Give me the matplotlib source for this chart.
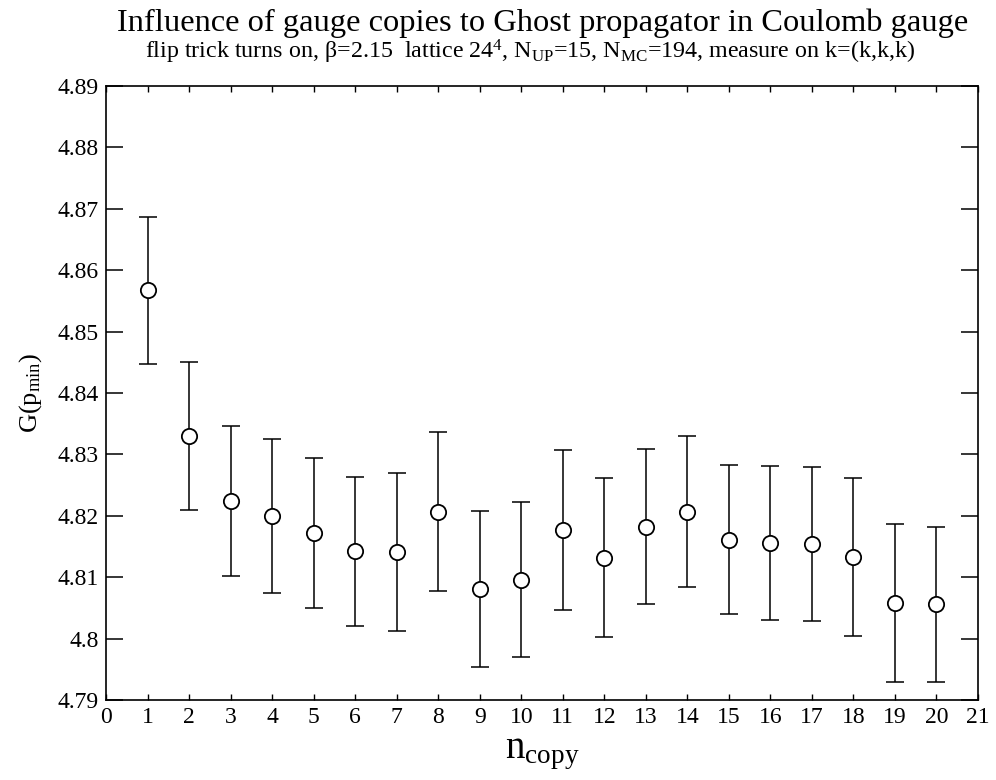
import matplotlib

matplotlib.use("Agg")
import matplotlib.pyplot as plt

# n_copy on the x axis, G(p_min) with error bars
n_copy = list(range(1, 21))
g_pmin = [4.8567, 4.8330, 4.8224, 4.8200, 4.8172, 4.8142, 4.8141, 4.8207,
          4.8081, 4.8096, 4.8177, 4.8132, 4.8182, 4.8207, 4.8161, 4.8156,
          4.8154, 4.8133, 4.8058, 4.8056]
g_err = [0.0119, 0.0120, 0.0122, 0.0125, 0.0122, 0.0121, 0.0128, 0.0130,
         0.0127, 0.0126, 0.0130, 0.0129, 0.0126, 0.0123, 0.0121, 0.0125,
         0.0126, 0.0128, 0.0128, 0.0126]
y_ticks = [4.79, 4.80, 4.81, 4.82, 4.83, 4.84, 4.85, 4.86, 4.87, 4.88, 4.89]

plt.rcParams["font.family"] = ["Liberation Serif", "DejaVu Serif"]
plt.rcParams["mathtext.fontset"] = "custom"
plt.rcParams["mathtext.rm"] = "Liberation Serif"
plt.rcParams["mathtext.it"] = "Liberation Serif:italic"

fig = plt.figure(figsize=(9.96, 7.8), dpi=100)
ax = fig.add_axes([106 / 996, 80 / 780, 872 / 996, 614 / 780])

ax.errorbar(n_copy, g_pmin, yerr=g_err, fmt="none", ecolor="black",
            elinewidth=1.1, capsize=6.5, capthick=1.1, zorder=2)
ax.plot(n_copy, g_pmin, linestyle="none", marker="o", markersize=11,
        markerfacecolor="white", markeredgecolor="black",
        markeredgewidth=1.3, zorder=3)

ax.set_xlim(0, 21)
ax.set_ylim(4.79, 4.89)
ax.set_xticks(range(0, 22))
ax.set_yticks(y_ticks)
ax.set_yticklabels([f"{v:g}" for v in y_ticks])
ax.tick_params(axis="x", direction="in", top=True, length=4, width=1,
               labelsize=17, pad=5)
ax.tick_params(axis="y", direction="in", right=True, length=12, width=1.1,
               labelsize=17, pad=5)
for s in ax.spines.values():
    s.set_linewidth(1.2)

ax.set_xlabel(r"n$_{\mathrm{copy}}$", fontsize=28, labelpad=5)
ax.set_ylabel(r"G(p$_{\mathrm{min}}$)", fontsize=19, labelpad=10)

fig.text(0.545, 1 - 31 / 780,
         "Influence of gauge copies to Ghost propagator in Coulomb gauge",
         ha="center", va="baseline", fontsize=23.4)
fig.text(530 / 996, 1 - 59 / 780,
         r"flip trick turns on, $\mathrm{\beta}$=2.15  lattice 24$^{4}$, "
         r"N$_{\mathrm{UP}}$=15, N$_{\mathrm{MC}}$=194, measure on k=(k,k,k)",
         ha="center", va="baseline", fontsize=17.3)

fig.savefig("out.png", dpi=100)
